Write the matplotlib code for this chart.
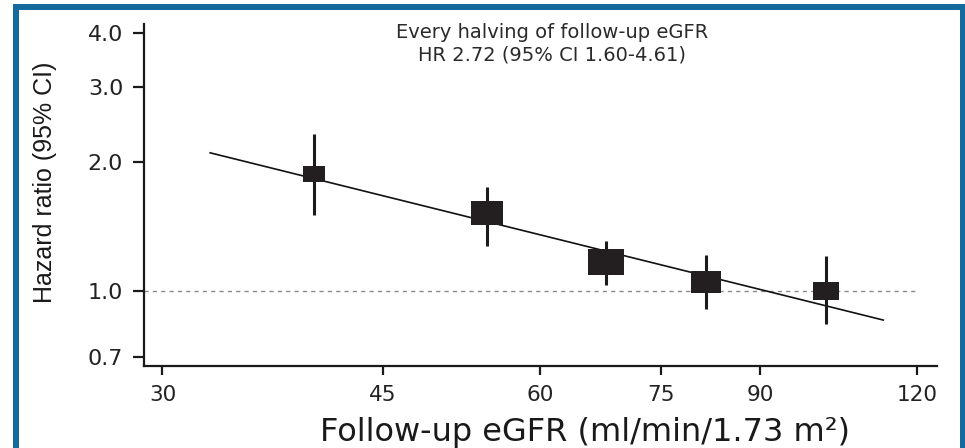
import matplotlib
matplotlib.use("Agg")
import matplotlib.pyplot as plt
import numpy as np
from matplotlib.path import Path
from matplotlib.patches import Rectangle
from matplotlib.ticker import FixedLocator, NullLocator, FixedFormatter

# ---------------- data ----------------
egfr = [39.6, 54.5, 67.8, 81.5, 101.6]          # follow-up eGFR (category midpoints)
hr = [1.87, 1.52, 1.165, 1.046, 1.00]            # hazard ratios
ci_low = [1.50, 1.27, 1.03, 0.906, 0.834]
ci_high = [2.33, 1.745, 1.31, 1.21, 1.205]
weights = [0.36, 0.76, 1.00, 0.64, 0.50]         # relative weight (square area)

fit_x = [32.75, 112.8]                            # fitted log-linear trend
fit_y = [2.10, 0.854]

x_ticks = [30, 45, 60, 75, 90, 120]
y_ticks = [0.7, 1.0, 2.0, 3.0, 4.0]
y_tick_labels = ["0.7", "1.0", "2.0", "3.0", "4.0"]
ref_hr = 1.0

annot1 = "Every halving of follow-up eGFR"
annot2 = "HR 2.72 (95% CI 1.60-4.61)"
xlabel = "Follow-up eGFR (ml/min/1.73 m\u00b2)"
ylabel = "Hazard ratio (95% CI)"

# ---------------- figure ----------------
W, H = 965, 448
fig = plt.figure(figsize=(W / 100, H / 100), dpi=100)
fig.patch.set_facecolor("white")

# blue frame (open at bottom)
blue = "#14699f"
frame = Rectangle((15.5 / W, -0.05), (962.5 - 15.5) / W, 1.05 - 7 / H,
                  transform=fig.transFigure, fill=False, edgecolor=blue,
                  linewidth=6 * 72 / 100, zorder=10)
fig.patches.append(frame)

ax_l, ax_r, ax_t, ax_b = 144, 937, 24, 366
ax = fig.add_axes([ax_l / W, 1 - ax_b / H, (ax_r - ax_l) / W, (ax_b - ax_t) / H])
ax.set_facecolor("none")
ax.set_xscale("log")
ax.set_yscale("log")
ax.set_xlim(29.0, 124.5)
ax.set_ylim(0.667, 4.20)

for s in ["top", "right"]:
    ax.spines[s].set_visible(False)
for s in ["left", "bottom"]:
    ax.spines[s].set_linewidth(1.6)
    ax.spines[s].set_color("#1a1a1a")

ax.xaxis.set_major_locator(FixedLocator(x_ticks))
ax.xaxis.set_major_formatter(FixedFormatter([str(t) for t in x_ticks]))
ax.xaxis.set_minor_locator(NullLocator())
ax.yaxis.set_major_locator(FixedLocator(y_ticks))
ax.yaxis.set_major_formatter(FixedFormatter(y_tick_labels))
ax.yaxis.set_minor_locator(NullLocator())

ax.tick_params(axis="x", direction="out", length=6.5, width=1.6, pad=7,
               labelsize=15.5, colors="#1a1a1a")
ax.tick_params(axis="y", direction="out", length=8, width=1.6, pad=7,
               labelsize=16, colors="#1a1a1a")
for lab in ax.get_xticklabels() + ax.get_yticklabels():
    lab.set_family("DejaVu Sans")
    lab.set_color("#222222")

# reference line
ax.hlines(ref_hr, ax.get_xlim()[0], x_ticks[-1], colors="#8a8a8a",
          linestyles=(0, (3, 3)), linewidth=1.0, zorder=1)

# fitted line
ax.plot(fit_x, fit_y, color="#111111", linewidth=1.2, zorder=2)

# CIs
ax.vlines(egfr, ci_low, ci_high, colors="#1c1a1b", linewidth=2.2, zorder=3)

# rectangles (squares stretched like the original)
aspect = 1.38
verts = [(-aspect / 2, -0.5), (aspect / 2, -0.5), (aspect / 2, 0.5),
         (-aspect / 2, 0.5), (-aspect / 2, -0.5)]
rect_marker = Path(verts, [Path.MOVETO, Path.LINETO, Path.LINETO, Path.LINETO,
                           Path.CLOSEPOLY])
max_w_px = 36.7
for xv, yv, w in zip(egfr, hr, weights):
    ms = max_w_px * np.sqrt(w) * 72 / 100
    ax.plot([xv], [yv], marker=rect_marker, markersize=ms, color="#231f20",
            markeredgewidth=0, linestyle="none", zorder=4)

# annotation
fig.text(552 / W, 1 - 33 / H, annot1, ha="center", va="center",
         family="DejaVu Sans", fontsize=14, color="#2a2a2a")
fig.text(552 / W, 1 - 55 / H, annot2, ha="center", va="center",
         family="DejaVu Sans", fontsize=14, color="#2a2a2a")

# axis labels
fig.text(585 / W, 1 - 432 / H, xlabel, ha="center", va="center",
         family="DejaVu Sans", fontsize=23, color="#1a1a1a")
fig.text(45 / W, 1 - 182 / H, ylabel, ha="center", va="center", rotation=90,
         family=["Liberation Sans Narrow", "Liberation Sans"], fontsize=18,
         color="#1a1a1a")

fig.savefig("out.png", dpi=100, facecolor="white")
